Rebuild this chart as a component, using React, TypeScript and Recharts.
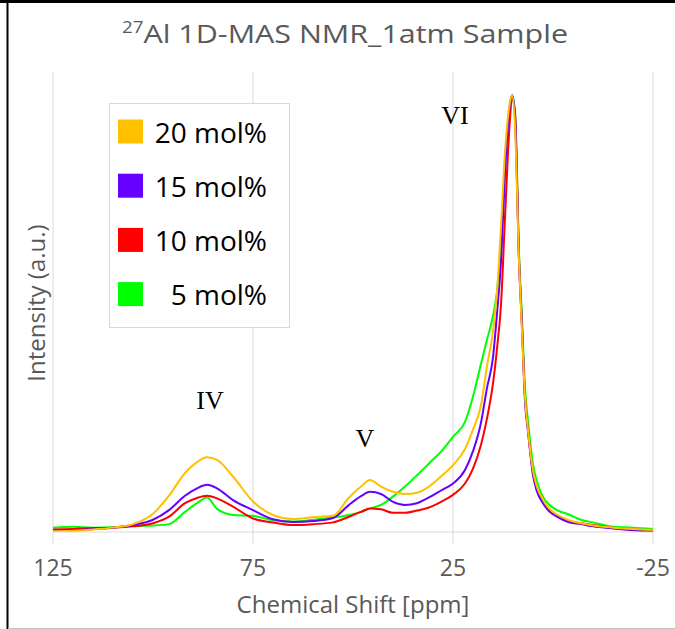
import { LineChart, Line, XAxis, YAxis, CartesianGrid, ReferenceDot } from "recharts";

const FONT = "'Open Sans', 'Noto Sans', sans-serif";
const SERIF = "'Liberation Serif', 'DejaVu Serif', serif";
const GRAY = "#595959";
const GRID = "#d9d9d9";

// chemical shift, ppm (axis runs high -> low)
const ppm = [
  125, 120, 115, 110, 105, 100, 96, 92, 89, 86.5, 84, 80, 75, 70, 65, 60, 55, 51, 48, 45.75,
  43, 40, 37, 34, 31, 28, 25, 22, 20, 18, 16.5, 15, 14, 13, 12, 11, 10.2, 9.5, 8.5, 7.8,
  7, 6.2, 5, 4, 2.5, 1, -1, -4, -7, -10, -15, -20, -25,
];

const mol20 = [
  0.2, 0.3, 0.6, 1.0, 1.8, 4.2, 8.3, 13.5, 16.0, 17.1, 16.5, 12.7, 7.0, 3.9, 3.0, 3.4, 3.7, 7.9, 10.4, 11.9,
  10.4, 9.2, 8.7, 9.0, 10.4, 12.7, 15.3, 19.0, 23.5, 29.0, 38, 46, 55, 70, 87, 97, 100, 93, 62, 47,
  31, 23, 14, 10.3, 7.4, 5.4, 4.0, 2.7, 2.0, 1.5, 1.0, 0.7, 0.5,
];

const mol15 = [
  0.3, 0.4, 0.7, 1.0, 1.6, 2.8, 5.0, 8.3, 10.0, 10.8, 10.0, 7.3, 5.0, 2.9, 2.3, 2.5, 3.2, 6.2, 8.2, 9.2,
  8.7, 6.9, 6.2, 6.6, 7.9, 9.5, 11.1, 14.2, 18.5, 25, 33, 40, 50, 62, 82, 96, 100, 95, 62, 48,
  30, 22.6, 13, 9.3, 6.6, 4.8, 3.5, 2.2, 1.8, 1.3, 0.8, 0.4, 0.0,
];

const mol10 = [
  0.6, 0.7, 0.9, 1.0, 1.3, 2.0, 3.5, 6.6, 7.8, 8.3, 7.7, 5.8, 3.1, 2.2, 1.6, 1.8, 2.2, 3.5, 4.6, 5.4,
  5.2, 4.4, 4.4, 4.9, 5.6, 6.9, 8.5, 11.1, 14.5, 20, 26, 34, 42, 52, 72, 91, 99, 96, 63, 48,
  31, 23, 13.5, 9.6, 6.8, 5.0, 3.6, 2.4, 2.0, 1.6, 1.0, 0.6, 0.3,
];

const mol5 = [
  1.0, 1.2, 1.0, 1.1, 1.4, 1.5, 1.8, 4.6, 6.6, 7.9, 5.3, 3.9, 3.7, 2.7, 2.4, 2.8, 3.3, 3.9, 4.6, 5.4,
  6.2, 8.1, 10.4, 13.0, 15.7, 18.4, 21.8, 25.2, 31, 38.5, 44, 49.5, 55, 66, 85, 96, 100, 96, 64, 50,
  33, 25, 15.5, 11.5, 8.0, 6.3, 5.0, 4.0, 2.8, 2.2, 1.2, 1.0, 0.7,
];

const xTicks = [125, 75, 25, -25];

// drawn bottom to top
const series = [
  { key: "mol5", name: "5 mol%", color: "#00ff00", values: mol5 },
  { key: "mol10", name: "10 mol%", color: "#ff0000", values: mol10 },
  { key: "mol15", name: "15 mol%", color: "#6600ff", values: mol15 },
  { key: "mol20", name: "20 mol%", color: "#ffc000", values: mol20 },
];

const legendOrder = ["mol20", "mol15", "mol10", "mol5"];

const peaks = [
  { label: "IV", x: 85.75, y: 30.2 },
  { label: "V", x: 47, y: 21.5 },
  { label: "VI", x: 24.5, y: 95.4 },
];

const rows = ppm.map((p, i) => {
  const r: Record<string, number> = { ppm: p };
  series.forEach((s) => (r[s.key] = s.values[i]));
  return r;
});

function Overlay() {
  return (
    <svg
      width={675}
      height={629}
      style={{ position: "absolute", left: 0, top: 0, pointerEvents: "none" }}
    >
      {/* frame */}
      <line x1={0} y1={1.5} x2={675} y2={1.5} stroke="#000" strokeWidth={3} />
      <line x1={7.5} y1={0} x2={7.5} y2={629} stroke="#000" strokeWidth={2} />
      <line x1={8} y1={628.5} x2={675} y2={628.5} stroke="#bfbfbf" strokeWidth={1} />

      <text
        x={122}
        y={43}
        fontFamily={FONT}
        fontSize={26}
        fill={GRAY}
        textLength={446}
        lengthAdjust="spacingAndGlyphs"
      >
        <tspan fontSize={16} dy={-10}>27</tspan>
        <tspan dy={10}>Al 1D-MAS NMR_1atm Sample</tspan>
      </text>

      <text
        x={45}
        y={303}
        transform="rotate(-90 45 303)"
        textAnchor="middle"
        fontFamily={FONT}
        fontSize={24}
        fill={GRAY}
      >
        Intensity (a.u.)
      </text>

      <rect x={109.5} y={103.5} width={180} height={224} fill="#fff" stroke={GRID} />
      {legendOrder.map((k, i) => {
        const s = series.find((d) => d.key === k)!;
        const cy = 131.5 + i * 54.2;
        return (
          <g key={k}>
            <rect x={118} y={cy - 12} width={25} height={24} fill={s.color} />
            <text x={267} y={cy + 11} textAnchor="end" fontFamily={FONT} fontSize={28} fill="#000">
              {s.name}
            </text>
          </g>
        );
      })}
    </svg>
  );
}

export default function App() {
  return (
    <div style={{ position: "absolute", left: 0, top: 0, width: 675, height: 629, background: "#fff" }}>
      <LineChart width={675} height={629} data={rows} margin={{ top: 72, right: 22, bottom: 0, left: 0 }}>
        <CartesianGrid horizontal={false} stroke={GRID} />
        <XAxis
          dataKey="ppm"
          type="number"
          domain={[-25, 125]}
          reversed
          ticks={xTicks}
          height={97}
          axisLine={{ stroke: GRID }}
          tickLine={{ stroke: GRID }}
          tickSize={12}
          tickMargin={16}
          tick={{ fill: GRAY, fontSize: 23, fontFamily: FONT }}
          label={{
            value: "Chemical Shift [ppm]",
            position: "insideBottom",
            offset: 16,
            fill: GRAY,
            fontSize: 24,
            fontFamily: FONT,
          }}
        />
        <YAxis
          type="number"
          domain={[0, 105.3]}
          width={53}
          tick={false}
          axisLine={false}
          tickLine={false}
          allowDataOverflow
        />
        {series.map((s) => (
          <Line
            key={s.key}
            dataKey={s.key}
            name={s.name}
            type="monotone"
            stroke={s.color}
            strokeWidth={2}
            dot={false}
            isAnimationActive={false}
          />
        ))}
        {peaks.map((p) => (
          <ReferenceDot
            key={p.label}
            x={p.x}
            y={p.y}
            r={0}
            fill="none"
            stroke="none"
            label={{ value: p.label, position: "center", fontFamily: SERIF, fontSize: 26, fill: "#000" }}
          />
        ))}
      </LineChart>
      <Overlay />
    </div>
  );
}
